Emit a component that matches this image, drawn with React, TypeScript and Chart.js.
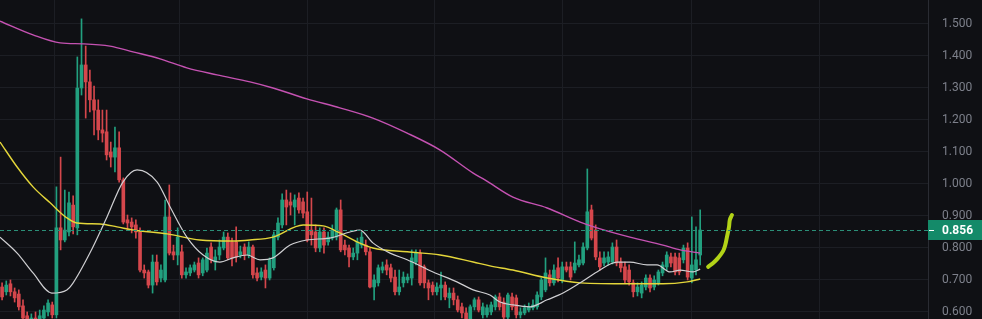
import React, { useEffect, useRef } from "react";
import { Chart, registerables } from "chart.js";

Chart.register(...registerables);

// ---- data ----
const startDate = [2024, 2, 4]; // first candle date (UTC y, m0, d)
const slotCount = 222; // daily slots shown on the time axis (incl. empty right margin)

const open = [
  0.678, 0.663, 0.688, 0.663, 0.656, 0.619, 0.588, 0.569, 0.581, 0.569,
  0.581, 0.6, 0.622, 0.591, 0.863, 0.825, 0.85, 0.934, 0.863, 1.3,
  1.372, 1.319, 1.263, 1.231, 1.169, 1.163, 1.1, 1.084, 1.113, 1.013,
  0.888, 0.881, 0.872, 0.85, 0.731, 0.725, 0.684, 0.756, 0.706, 0.7,
  0.897, 0.788, 0.778, 0.788, 0.716, 0.722, 0.731, 0.753, 0.722, 0.731,
  0.803, 0.756, 0.778, 0.8, 0.834, 0.819, 0.819, 0.778, 0.803, 0.778,
  0.803, 0.722, 0.709, 0.731, 0.706, 0.738, 0.834, 0.872, 0.95, 0.944,
  0.928, 0.956, 0.944, 0.913, 0.856, 0.85, 0.8, 0.85, 0.819, 0.831,
  0.834, 0.919, 0.809, 0.8, 0.772, 0.784, 0.809, 0.809, 0.788, 0.678,
  0.691, 0.731, 0.747, 0.738, 0.709, 0.663, 0.691, 0.7, 0.706, 0.756,
  0.784, 0.741, 0.691, 0.684, 0.663, 0.675, 0.684, 0.644, 0.659, 0.638,
  0.616, 0.597, 0.578, 0.616, 0.638, 0.591, 0.591, 0.6, 0.616, 0.647,
  0.631, 0.584, 0.647, 0.644, 0.591, 0.597, 0.606, 0.613, 0.616, 0.647,
  0.669, 0.716, 0.691, 0.738, 0.7, 0.741, 0.741, 0.731, 0.747, 0.753,
  0.8, 0.919, 0.856, 0.769, 0.753, 0.756, 0.756, 0.803, 0.756, 0.741,
  0.731, 0.691, 0.663, 0.659, 0.678, 0.706, 0.678, 0.691, 0.722, 0.741,
  0.772, 0.772, 0.769, 0.763, 0.8, 0.706, 0.731, 0.778,
];
const close = [
  0.647, 0.684, 0.663, 0.644, 0.616, 0.581, 0.569, 0.581, 0.563, 0.588,
  0.606, 0.628, 0.591, 0.863, 0.825, 0.856, 0.941, 0.866, 1.3, 1.372,
  1.319, 1.263, 1.231, 1.169, 1.159, 1.091, 1.084, 1.113, 1.013, 0.881,
  0.878, 0.866, 0.85, 0.731, 0.722, 0.684, 0.756, 0.694, 0.731, 0.897,
  0.784, 0.778, 0.834, 0.716, 0.725, 0.738, 0.747, 0.716, 0.763, 0.784,
  0.763, 0.772, 0.803, 0.834, 0.769, 0.769, 0.772, 0.788, 0.778, 0.803,
  0.716, 0.706, 0.725, 0.706, 0.763, 0.841, 0.878, 0.95, 0.928, 0.934,
  0.95, 0.919, 0.909, 0.825, 0.841, 0.8, 0.85, 0.809, 0.834, 0.856,
  0.919, 0.794, 0.794, 0.772, 0.784, 0.819, 0.834, 0.788, 0.678, 0.7,
  0.738, 0.741, 0.731, 0.706, 0.663, 0.678, 0.709, 0.709, 0.769, 0.784,
  0.691, 0.691, 0.675, 0.663, 0.678, 0.684, 0.647, 0.659, 0.638, 0.606,
  0.597, 0.575, 0.616, 0.638, 0.606, 0.616, 0.613, 0.622, 0.647, 0.616,
  0.584, 0.653, 0.616, 0.591, 0.6, 0.613, 0.616, 0.622, 0.653, 0.7,
  0.722, 0.691, 0.731, 0.706, 0.741, 0.731, 0.709, 0.753, 0.763, 0.803,
  0.913, 0.831, 0.772, 0.741, 0.769, 0.772, 0.803, 0.753, 0.738, 0.7,
  0.694, 0.663, 0.678, 0.684, 0.706, 0.675, 0.7, 0.725, 0.747, 0.778,
  0.753, 0.725, 0.725, 0.8, 0.709, 0.747, 0.763, 0.856,
];
const high = [
  0.691, 0.697, 0.7, 0.675, 0.669, 0.638, 0.6, 0.594, 0.6, 0.606,
  0.619, 0.638, 0.631, 0.991, 1.084, 0.981, 0.975, 0.963, 1.397, 1.516,
  1.431, 1.356, 1.306, 1.263, 1.231, 1.231, 1.131, 1.178, 1.163, 1.019,
  0.903, 0.894, 0.888, 0.863, 0.747, 0.731, 0.778, 0.778, 0.747, 0.95,
  0.997, 0.809, 0.863, 0.809, 0.738, 0.747, 0.756, 0.769, 0.769, 0.8,
  0.816, 0.794, 0.825, 0.85, 0.847, 0.831, 0.866, 0.806, 0.813, 0.819,
  0.809, 0.738, 0.738, 0.747, 0.769, 0.85, 0.894, 0.969, 0.981, 0.972,
  0.966, 0.972, 0.956, 0.975, 0.956, 0.872, 0.863, 0.863, 0.85, 0.872,
  0.925, 0.95, 0.825, 0.809, 0.8, 0.831, 0.85, 0.825, 0.8, 0.716,
  0.747, 0.756, 0.763, 0.75, 0.731, 0.731, 0.725, 0.719, 0.794, 0.794,
  0.794, 0.747, 0.7, 0.694, 0.691, 0.725, 0.694, 0.675, 0.675, 0.65,
  0.628, 0.613, 0.622, 0.644, 0.647, 0.628, 0.622, 0.631, 0.653, 0.659,
  0.644, 0.659, 0.659, 0.653, 0.613, 0.622, 0.628, 0.638, 0.663, 0.706,
  0.769, 0.731, 0.747, 0.769, 0.756, 0.756, 0.756, 0.819, 0.778, 0.816,
  1.047, 0.934, 0.872, 0.788, 0.788, 0.788, 0.816, 0.825, 0.769, 0.756,
  0.747, 0.7, 0.691, 0.694, 0.716, 0.716, 0.713, 0.731, 0.756, 0.788,
  0.784, 0.784, 0.784, 0.809, 0.816, 0.897, 0.866, 0.919,
];
const low = [
  0.638, 0.653, 0.65, 0.631, 0.606, 0.563, 0.55, 0.556, 0.55, 0.559,
  0.572, 0.588, 0.581, 0.581, 0.794, 0.819, 0.838, 0.844, 0.841, 1.278,
  1.206, 1.225, 1.153, 1.138, 1.131, 1.075, 1.053, 1.038, 1.006, 0.875,
  0.856, 0.847, 0.831, 0.725, 0.706, 0.675, 0.659, 0.684, 0.694, 0.694,
  0.778, 0.763, 0.747, 0.706, 0.706, 0.713, 0.725, 0.706, 0.713, 0.725,
  0.753, 0.731, 0.763, 0.794, 0.763, 0.744, 0.756, 0.769, 0.763, 0.769,
  0.706, 0.697, 0.7, 0.675, 0.7, 0.731, 0.825, 0.863, 0.872, 0.903,
  0.872, 0.909, 0.894, 0.819, 0.809, 0.788, 0.788, 0.784, 0.809, 0.825,
  0.825, 0.788, 0.778, 0.741, 0.763, 0.763, 0.8, 0.778, 0.675, 0.638,
  0.681, 0.722, 0.716, 0.694, 0.653, 0.653, 0.678, 0.691, 0.684, 0.747,
  0.684, 0.675, 0.638, 0.653, 0.653, 0.638, 0.638, 0.613, 0.622, 0.6,
  0.581, 0.556, 0.569, 0.606, 0.6, 0.581, 0.584, 0.591, 0.606, 0.606,
  0.575, 0.575, 0.606, 0.581, 0.581, 0.591, 0.6, 0.606, 0.609, 0.638,
  0.663, 0.681, 0.684, 0.694, 0.691, 0.725, 0.7, 0.722, 0.741, 0.747,
  0.794, 0.825, 0.763, 0.731, 0.744, 0.747, 0.75, 0.744, 0.725, 0.691,
  0.684, 0.647, 0.65, 0.644, 0.669, 0.663, 0.669, 0.684, 0.713, 0.731,
  0.741, 0.716, 0.716, 0.753, 0.7, 0.691, 0.716, 0.747,
];

// moving averages (x = candle index, y = price)
const maLongX = [-0.5, 7.4, 13.9, 19.4, 25.8, 31.3, 37.8, 44.2, 51.4, 59.3, 64.8, 72.9, 80.8, 88.7, 96.9, 104.8, 112.7, 115.5, 122.2, 130.4, 138.3, 142.3, 150.2, 158.1, 162.2, 167];
const maLongY = [1.509, 1.466, 1.441, 1.438, 1.431, 1.413, 1.391, 1.363, 1.341, 1.319, 1.3, 1.266, 1.238, 1.206, 1.159, 1.106, 1.034, 1.013, 0.959, 0.925, 0.881, 0.863, 0.834, 0.809, 0.794, 0.784];

const maMidX = [-0.5, 3.6, 7.4, 11.5, 15.5, 17.9, 23.4, 27.5, 31.3, 39.5, 47.3, 55.2, 59.3, 64.8, 72.0, 76.8, 80.8, 84.9, 88.7, 96.9, 104.8, 112.7, 116.7, 122.2, 130.4, 138.3, 150.2, 158.1, 163.9, 167];
const maMidY = [1.131, 1.053, 0.991, 0.941, 0.894, 0.878, 0.875, 0.866, 0.856, 0.844, 0.825, 0.822, 0.825, 0.834, 0.872, 0.869, 0.847, 0.819, 0.8, 0.788, 0.778, 0.756, 0.744, 0.731, 0.706, 0.691, 0.688, 0.688, 0.694, 0.703];

const maShortX = [-0.5, 3.6, 7.4, 11.9, 15.5, 17.0, 21.0, 25.1, 28.9, 32.3, 37.1, 40.2, 44.2, 48.1, 52.1, 55.2, 58.6, 61.7, 64.8, 68.9, 72.9, 78.4, 83.2, 85.6, 88.7, 92.8, 96.9, 103.1, 108.8, 112.7, 116.7, 119.1, 122.2, 126.3, 130.4, 134.2, 138.3, 142.3, 147.1, 150.2, 154.3, 156.7, 159.8, 162.2, 165.3, 167];
const maShortY = [0.834, 0.784, 0.722, 0.659, 0.669, 0.691, 0.784, 0.897, 1.006, 1.044, 1.006, 0.928, 0.834, 0.778, 0.756, 0.769, 0.778, 0.763, 0.769, 0.809, 0.825, 0.831, 0.85, 0.856, 0.816, 0.784, 0.763, 0.725, 0.694, 0.669, 0.653, 0.631, 0.622, 0.616, 0.638, 0.659, 0.691, 0.725, 0.756, 0.756, 0.747, 0.747, 0.725, 0.731, 0.725, 0.734];

// hand-drawn projection stroke
const sketchX = [168.9, 170.1, 171.3, 172.5, 173.0, 173.4, 173.9, 174.1, 174.6];
const sketchY = [0.741, 0.753, 0.769, 0.791, 0.809, 0.834, 0.866, 0.888, 0.903];

const yTicks = [0.6, 0.7, 0.8, 0.9, 1.0, 1.1, 1.2, 1.3, 1.4, 1.5];
const yMin = 0.578;
const yMax = 1.575;

// ---- styles ----
const BG = "#0f1014";
const GRID = "#1c1e24";
const UP = "#22a07f";
const DOWN = "#d5474c";
const TICK = "#7d808b";

const dates = Array.from({ length: slotCount }, (_, i) =>
  new Date(Date.UTC(startDate[0], startDate[1], startDate[2] + i)).toISOString().slice(0, 10)
);
const monthBounds = dates
  .map((d, i) => (d.endsWith("-01") ? i - 0.5 : null))
  .filter((v) => v !== null) as number[];

const pts = (xs: number[], ys: number[]) => xs.map((x, i) => ({ x, y: ys[i] }));

export default function App() {
  const ref = useRef<HTMLCanvasElement>(null);

  useEffect(() => {
    document.body.style.margin = "0";
    document.body.style.background = BG;
    const canvas = ref.current!;
    const colors = open.map((o, i) => (close[i] >= o ? UP : DOWN));
    const lastClose = close[close.length - 1];

    const bgPlugin = {
      id: "bg",
      beforeDraw(chart: any) {
        const ctx = chart.ctx;
        ctx.save();
        ctx.fillStyle = BG;
        ctx.fillRect(0, 0, chart.width, chart.height);
        ctx.restore();
      },
    };

    const pricePlugin = {
      id: "priceLine",
      afterDatasetsDraw(chart: any) {
        const { ctx, chartArea } = chart;
        const y = Math.round(chart.scales.y.getPixelForValue(lastClose)) + 0.5;
        ctx.save();
        ctx.strokeStyle = "#2b8f78";
        ctx.lineWidth = 1;
        ctx.setLineDash([4, 3]);
        ctx.beginPath();
        ctx.moveTo(chartArea.left, y);
        ctx.lineTo(chartArea.right, y);
        ctx.stroke();
        ctx.restore();
      },
      afterDraw(chart: any) {
        const { ctx, chartArea } = chart;
        const y = Math.round(chart.scales.y.getPixelForValue(lastClose));
        ctx.save();
        ctx.fillStyle = "#148a69";
        ctx.fillRect(chartArea.right, y - 10, chart.width - chartArea.right, 20);
        ctx.fillStyle = "#ffffff";
        ctx.fillRect(chartArea.right + 1, y, 5, 1);
        ctx.font = "bold 12px Roboto, 'Noto Sans', sans-serif";
        ctx.textBaseline = "middle";
        ctx.textAlign = "left";
        ctx.fillText(lastClose.toFixed(3), chartArea.right + 14, y + 1);
        ctx.restore();
      },
    };

    const chart = new Chart(canvas, {
      type: "bar",
      data: {
        datasets: [
          {
            type: "line",
            label: "sketch",
            data: pts(sketchX, sketchY),
            borderColor: "#b2d317",
            borderWidth: 4,
            borderCapStyle: "round",
            borderJoinStyle: "round",
            pointRadius: 0,
            tension: 0.4,
            order: 0,
          } as any,
          {
            type: "line",
            label: "MA short",
            data: pts(maShortX, maShortY),
            borderColor: "#cfcfd2",
            borderWidth: 1.2,
            pointRadius: 0,
            cubicInterpolationMode: "monotone",
            order: 1,
          } as any,
          {
            type: "line",
            label: "MA mid",
            data: pts(maMidX, maMidY),
            borderColor: "#e4d63a",
            borderWidth: 1.4,
            pointRadius: 0,
            cubicInterpolationMode: "monotone",
            order: 1,
          } as any,
          {
            type: "line",
            label: "MA long",
            data: pts(maLongX, maLongY),
            borderColor: "#c552b2",
            borderWidth: 1.4,
            pointRadius: 0,
            cubicInterpolationMode: "monotone",
            order: 1,
          } as any,
          {
            label: "body",
            data: open.map((o, i) => ({ x: i, y: [o, close[i]] })),
            backgroundColor: colors,
            borderWidth: 0,
            barThickness: 3,
            minBarLength: 1,
            grouped: false,
            order: 2,
          } as any,
          {
            label: "wick",
            data: low.map((l, i) => ({ x: i, y: [l, high[i]] })),
            backgroundColor: colors,
            borderWidth: 0,
            barThickness: 1,
            grouped: false,
            order: 3,
          } as any,
        ],
      },
      options: {
        responsive: false,
        animation: false,
        events: [],
        layout: { padding: 0 },
        plugins: { legend: { display: false }, tooltip: { enabled: false } },
        scales: {
          x: {
            type: "linear",
            position: "bottom",
            min: -0.5,
            max: slotCount - 0.5,
            offset: false,
            grid: { color: GRID, drawTicks: false },
            border: { display: false },
            ticks: { display: false },
            afterBuildTicks: (s: any) => {
              s.ticks = monthBounds.map((v) => ({ value: v }));
            },
            afterFit: (s: any) => {
              s.height = 0;
              s.paddingLeft = 0;
              s.paddingRight = 0;
            },
          },
          y: {
            type: "linear",
            position: "right",
            min: yMin,
            max: yMax,
            grid: { color: GRID, drawTicks: false },
            border: { display: true, color: "#2a2c33" },
            ticks: {
              color: TICK,
              padding: 14,
              font: { family: "Roboto, 'Noto Sans', sans-serif", size: 12 },
              callback: (v: any) => Number(v).toFixed(3),
            },
            afterBuildTicks: (s: any) => {
              s.ticks = yTicks.map((v) => ({ value: v }));
            },
            afterFit: (s: any) => {
              s.width = 54;
              s.paddingTop = 0;
              s.paddingBottom = 0;
            },
          },
        },
      } as any,
      plugins: [bgPlugin, pricePlugin],
    });
    return () => chart.destroy();
  }, []);

  return (
    <div style={{ width: 982, height: 319, background: BG }}>
      <canvas ref={ref} width={982} height={319} style={{ display: "block" }} />
    </div>
  );
}
